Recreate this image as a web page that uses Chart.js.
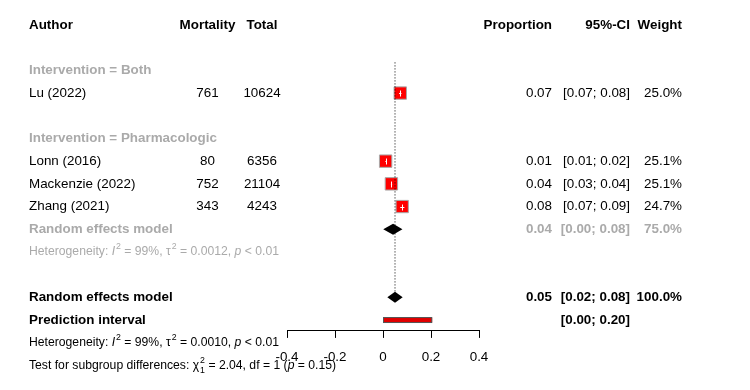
<!DOCTYPE html>
<html>
<head>
<meta charset="utf-8">
<script src="https://cdn.jsdelivr.net/npm/chart.js@4.4.1/dist/chart.umd.min.js"></script>
<style>
  html, body { margin: 0; padding: 0; background: #fff; }
</style>
</head>
<body>
<canvas id="forest" width="750" height="390"></canvas>
<script>
// ---- data ----
const studies   = ['Lu (2022)', 'Lonn (2016)', 'Mackenzie (2022)', 'Zhang (2021)'];
const studyRows = [3, 6, 7, 8];
const events    = [761, 80, 752, 343];
const totals    = [10624, 6356, 21104, 4243];
const prop      = [0.072, 0.011, 0.035, 0.080];
const lower     = [0.067, 0.010, 0.033, 0.072];
const upper     = [0.077, 0.016, 0.038, 0.089];
const weights   = [25.0, 25.1, 25.1, 24.7];
const propTxt   = ['0.07', '0.01', '0.04', '0.08'];
const ciTxt     = ['[0.07; 0.08]', '[0.01; 0.02]', '[0.03; 0.04]', '[0.07; 0.09]'];
const wTxt      = ['25.0%', '25.1%', '25.1%', '24.7%'];

// pooled estimates: subgroup "Pharmacologic" then overall
const poolRows  = [9, 12];
const poolEst   = [0.042, 0.050];
const poolLow   = [0.001, 0.018];
const poolUp    = [0.081, 0.082];
const poolTxt   = ['0.04', '0.05'];
const poolCiTxt = ['[0.00; 0.08]', '[0.02; 0.08]'];
const poolWTxt  = ['75.0%', '100.0%'];

const predRow   = 13;
const predInt   = [0.00, 0.205];
const refX      = 0.05;
const xTicks    = [-0.4, -0.2, 0, 0.2, 0.4];

const FONT = "'Liberation Sans', Arial, sans-serif";
const FS = 13.4;     // table text
const FS_HET = 12.2; // heterogeneity / test lines
const GREY = '#aaaaaa';

// ---- text helpers ----
function txt(ctx, s, x, y, align, bold, color) {
  ctx.font = (bold ? 'bold ' : '') + FS + 'px ' + FONT;
  ctx.fillStyle = color || '#000';
  ctx.textAlign = align;
  ctx.textBaseline = 'middle';
  ctx.fillText(s, x, y);
}

// segments: [text, kind] kind = '' | 'i' | 'sup' | 'supsub'
function rich(ctx, segs, x, y, color) {
  const small = (FS_HET * 0.72) + 'px ' + FONT;
  ctx.fillStyle = color;
  ctx.textAlign = 'left';
  ctx.textBaseline = 'middle';
  let cx = x;
  segs.forEach(([s, k]) => {
    if (k === 'sup') {
      ctx.font = small;
      ctx.fillText(s, cx + 1, y - 5);
      cx += ctx.measureText(s).width + 1;
    } else if (k === 'supsub') {
      const [a, b] = s.split('|');
      ctx.font = small;
      ctx.fillText(a, cx + 1, y - 5);
      ctx.fillText(b, cx + 1, y + 5);
      cx += Math.max(ctx.measureText(a).width, ctx.measureText(b).width) + 1;
    } else {
      ctx.font = (k === 'i' ? 'italic ' : '') + FS_HET + 'px ' + FONT;
      ctx.fillText(s, cx, y);
      cx += ctx.measureText(s).width;
    }
  });
}

const forestPlugin = {
  id: 'forestParts',
  afterDatasetsDraw(chart) {
    const { ctx } = chart;
    const xs = chart.scales.x, ys = chart.scales.y;
    const X = v => xs.getPixelForValue(v);
    const Y = v => ys.getPixelForValue(v);
    ctx.save();

    // white CI lines inside the squares
    ctx.strokeStyle = '#fff';
    ctx.lineWidth = 1;
    studies.forEach((s, i) => {
      const y = Math.round(Y(studyRows[i])) + 0.5;
      ctx.beginPath();
      ctx.moveTo(X(lower[i]), y);
      ctx.lineTo(X(upper[i]), y);
      const px = Math.round(X(prop[i])) + 0.5;
      ctx.moveTo(px, y - 3);
      ctx.lineTo(px, y + 3);
      ctx.stroke();
    });

    // pooled diamonds
    ctx.fillStyle = '#000';
    poolRows.forEach((r, i) => {
      const y = Y(r), h = 5.5;
      ctx.beginPath();
      ctx.moveTo(X(poolLow[i]), y);
      ctx.lineTo(X(poolEst[i]), y - h);
      ctx.lineTo(X(poolUp[i]), y);
      ctx.lineTo(X(poolEst[i]), y + h);
      ctx.closePath();
      ctx.fill();
    });

    // prediction interval bar
    const py = Y(predRow);
    ctx.fillStyle = '#e00000';
    ctx.strokeStyle = '#555';
    ctx.fillRect(X(predInt[0]), py - 2.5, X(predInt[1]) - X(predInt[0]), 5);
    ctx.strokeRect(X(predInt[0]) + 0.5, py - 2.5, X(predInt[1]) - X(predInt[0]) - 1, 5);

    // ---- table text ----
    const cAuthor = 29, cMort = 207.5, cTot = 262, cProp = 552, cCi = 630, cW = 682;
    const hy = Y(0);
    txt(ctx, 'Author', cAuthor, hy, 'left', true);
    txt(ctx, 'Mortality', cMort, hy, 'center', true);
    txt(ctx, 'Total', cTot, hy, 'center', true);
    txt(ctx, 'Proportion', cProp, hy, 'right', true);
    txt(ctx, '95%-CI', cCi, hy, 'right', true);
    txt(ctx, 'Weight', cW, hy, 'right', true);

    txt(ctx, 'Intervention = Both', cAuthor, Y(2), 'left', true, GREY);
    txt(ctx, 'Intervention = Pharmacologic', cAuthor, Y(5), 'left', true, GREY);

    studies.forEach((s, i) => {
      const y = Y(studyRows[i]);
      txt(ctx, s, cAuthor, y, 'left');
      txt(ctx, String(events[i]), cMort, y, 'center');
      txt(ctx, String(totals[i]), cTot, y, 'center');
      txt(ctx, propTxt[i], cProp, y, 'right');
      txt(ctx, ciTxt[i], cCi, y, 'right');
      txt(ctx, wTxt[i], cW, y, 'right');
    });

    poolRows.forEach((r, i) => {
      const y = Y(r), col = i === 0 ? GREY : '#000';
      txt(ctx, 'Random effects model', cAuthor, y, 'left', true, col);
      txt(ctx, poolTxt[i], cProp, y, 'right', true, col);
      txt(ctx, poolCiTxt[i], cCi, y, 'right', true, col);
      txt(ctx, poolWTxt[i], cW, y, 'right', true, col);
    });

    txt(ctx, 'Prediction interval', cAuthor, Y(predRow), 'left', true);
    txt(ctx, '[0.00; 0.20]', cCi, Y(predRow), 'right', true);

    rich(ctx, [['Heterogeneity: ', ''], ['I', 'i'], ['2', 'sup'], [' = 99%, \u03c4', ''], ['2', 'sup'],
               [' = 0.0012, ', ''], ['p', 'i'], [' < 0.01', '']], cAuthor, Y(10), GREY);
    rich(ctx, [['Heterogeneity: ', ''], ['I', 'i'], ['2', 'sup'], [' = 99%, \u03c4', ''], ['2', 'sup'],
               [' = 0.0010, ', ''], ['p', 'i'], [' < 0.01', '']], cAuthor, Y(14), '#000');
    rich(ctx, [['Test for subgroup differences: \u03c7', ''], ['2|1', 'supsub'], [' = 2.04, df = 1 (', ''],
               ['p', 'i'], [' = 0.15)', '']], cAuthor, Y(15), '#000');

    ctx.restore();
  },
};

new Chart(document.getElementById('forest').getContext('2d'), {
  type: 'scatter',
  data: {
    datasets: [
      {
        type: 'line',
        data: [{ x: refX, y: 1.65 }, { x: refX, y: 11.75 }],
        borderColor: '#000',
        borderWidth: 1,
        borderDash: [1, 2],
        pointRadius: 0,
      },
      {
        data: studies.map((s, i) => ({ x: prop[i], y: studyRows[i] })),
        pointStyle: 'rect',
        pointRadius: weights.map(w => 1.75 * Math.sqrt(w)),
        backgroundColor: '#ff0000',
        borderColor: '#a8a8a8',
        borderWidth: 1,
      },
    ],
  },
  plugins: [forestPlugin],
  options: {
    responsive: false,
    animation: false,
    events: [],
    layout: { autoPadding: false, padding: { left: 287, right: 271, top: 0, bottom: 14 } },
    plugins: { legend: { display: false }, tooltip: { enabled: false } },
    scales: {
      x: {
        type: 'linear',
        min: -0.4,
        max: 0.4,
        afterBuildTicks: s => { s.ticks = xTicks.map(v => ({ value: v })); },
        ticks: { color: '#000', font: { family: FONT, size: FS }, padding: 11, maxRotation: 0 },
        grid: { display: true, drawOnChartArea: false, drawTicks: true, tickLength: 7, color: '#000' },
        border: { display: true, color: '#000' },
      },
      y: {
        type: 'linear',
        display: false,
        reverse: true,
        min: -1.1,
        max: 13.48,
      },
    },
  },
});
</script>
</body>
</html>
